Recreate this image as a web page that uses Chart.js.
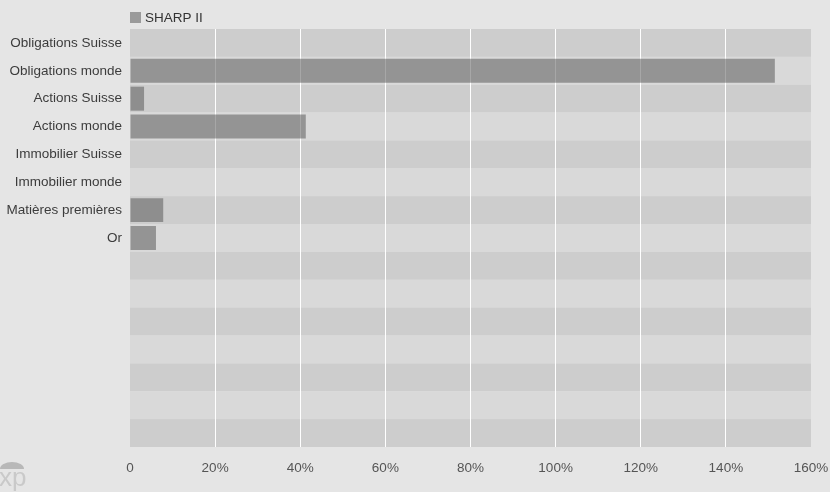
<!DOCTYPE html>
<html>
<head>
<meta charset="utf-8">
<script src="https://cdn.jsdelivr.net/npm/chart.js@4"></script>
<style>
  html, body { margin: 0; padding: 0; background: #e5e5e5; }
  #wrap { width: 830px; height: 492px; }
</style>
</head>
<body>
<div id="wrap"><canvas id="chart"></canvas></div>
<script>
// values (percent)
var categories = ['Obligations Suisse', 'Obligations monde', 'Actions Suisse', 'Actions monde',
                  'Immobilier Suisse', 'Immobilier monde', 'Matières premières', 'Or'];
var emptyRows = 7;   // the chart keeps blank rows below the categories
var sharpValues = [0, 151.5, 3.3, 41.3, 0, 0, 7.8, 6.1];
var seriesName = 'SHARP II';
var xMin = 0, xMax = 160, xStep = 20;

var FONT = '"Helvetica Neue", Helvetica, "Liberation Sans", Arial, sans-serif';

var labels = categories.slice();
var data = sharpValues.slice();
for(var i = 0; i < emptyRows; i++){
    labels.push('');
    data.push(null);
}

// striped rows behind the bars
var bandPlugin = {
    id: 'bands',
    beforeDraw: function(chart){
        var ctx = chart.ctx, a = chart.chartArea, y = chart.scales.y;
        var n = labels.length;
        var h = (a.bottom - a.top) / n;
        ctx.save();
        for(var i = 0; i < n; i++){
            var c = y.getPixelForValue(i);
            ctx.fillStyle = (i % 2 === 0) ? '#cdcdcd' : '#d9d9d9';
            ctx.fillRect(a.left, c - h / 2, a.right - a.left, h);
        }
        ctx.restore();
    }
};

// legend at the left of the plot, plus the small "xp" mark
var extrasPlugin = {
    id: 'extras',
    afterDraw: function(chart){
        var ctx = chart.ctx, a = chart.chartArea;
        ctx.save();
        ctx.fillStyle = '#9a9a9a';
        ctx.fillRect(a.left, 12, 11, 11);
        ctx.fillStyle = '#333';
        ctx.font = '13.5px ' + FONT;
        ctx.textBaseline = 'middle';
        ctx.textAlign = 'left';
        ctx.fillText(seriesName, a.left + 15, 18);

        // umbrella + "xp"
        ctx.fillStyle = '#b8b8b8';
        ctx.beginPath();
        ctx.ellipse(12, 469, 12, 7, 0, Math.PI, 2 * Math.PI);
        ctx.closePath();
        ctx.fill();
        ctx.fillStyle = '#c9c9c9';
        ctx.font = '26px ' + FONT;
        ctx.textBaseline = 'alphabetic';
        ctx.fillText('xp', -1, 486);
        ctx.restore();
    }
};

Chart.defaults.font.family = FONT;

new Chart(document.getElementById('chart').getContext('2d'), {
    type: 'bar',
    data: {
        labels: labels,
        datasets: [{
            label: seriesName,
            data: data,
            backgroundColor: 'rgba(80,80,80,0.5)',
            borderWidth: 0,
            barPercentage: 0.86,
            categoryPercentage: 1
        }]
    },
    options: {
        indexAxis: 'y',
        responsive: true,
        maintainAspectRatio: false,
        animation: false,
        layout: { padding: { top: 29, right: 19, left: 0, bottom: 0 } },
        plugins: {
            legend: { display: false },
            tooltip: { enabled: false }
        },
        scales: {
            x: {
                min: xMin,
                max: xMax,
                border: { display: false },
                grid: {
                    drawTicks: false,
                    lineWidth: 1,
                    color: function(c){
                        var v = c.tick && c.tick.value;
                        return (v === xMin || v === xMax) ? 'rgba(0,0,0,0)' : '#ffffff';
                    }
                },
                ticks: {
                    stepSize: xStep,
                    padding: 13,
                    color: '#555',
                    font: { size: 13.5 },
                    maxRotation: 0,
                    callback: function(v){ return v === 0 ? '0' : v + '%'; }
                },
                afterFit: function(s){
                    s.height = 45;
                    s.paddingLeft = 0;
                    s.paddingRight = 0;
                }
            },
            y: {
                border: { display: false },
                grid: { display: false, drawTicks: false },
                ticks: {
                    padding: 8,
                    color: '#3c3c3c',
                    font: { size: 13.5 },
                    autoSkip: false
                },
                afterFit: function(s){
                    s.width = 130;
                    s.paddingTop = 0;
                    s.paddingBottom = 0;
                }
            }
        }
    },
    plugins: [bandPlugin, extrasPlugin]
});
</script>
</body>
</html>
